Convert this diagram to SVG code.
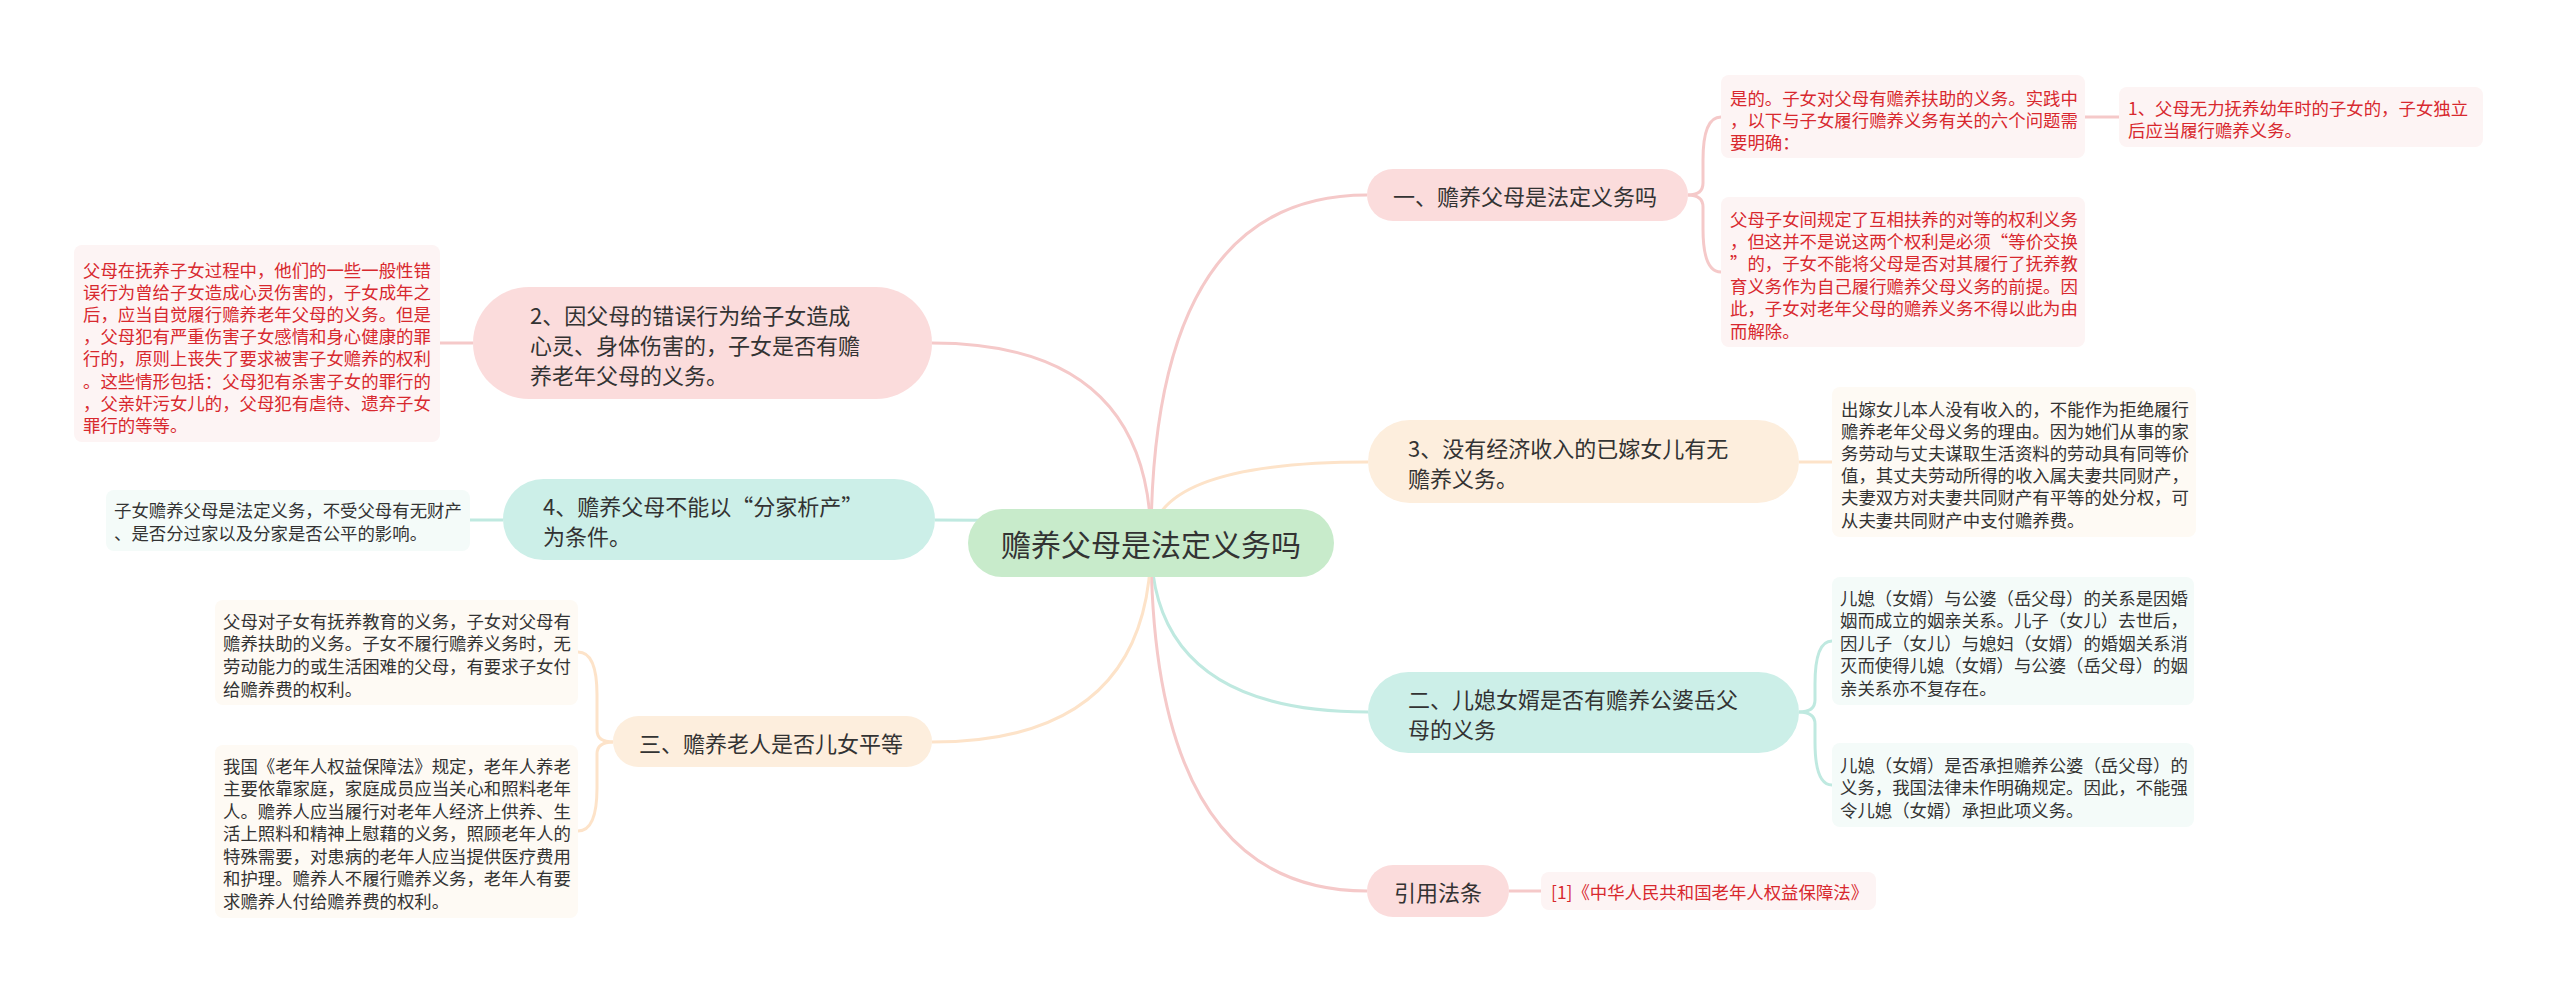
<svg xmlns="http://www.w3.org/2000/svg" width="2560" height="993" viewBox="0 0 2560 993">
<style>
text{font-family:"Noto Sans CJK SC","Noto Sans",sans-serif;dominant-baseline:central;}
.ctr{font-size:30px;fill:#333;text-anchor:middle;}
.l1{font-size:22px;fill:#333;}
.d{font-size:17.4px;fill:#333;}
.r{fill:#d8282e;}
.lp{fill:none;stroke:#f5c9c9;stroke-width:3;}
.lo{fill:none;stroke:#fde3c9;stroke-width:3;}
.lt{fill:none;stroke:#bfe9e0;stroke-width:3;}
.np{fill:#fbdcdc;}
.no{fill:#fdeedd;}
.nt{fill:#ccefe8;}
.bp{fill:#fdf4f4;}
.bo{fill:#fefaf4;}
.bt{fill:#f4fbf9;}
</style>
<rect width="2560" height="993" fill="#ffffff"/>
<g id="connectors">
<path class="lp" d="M1151,543 Q1151,195 1367,195"/>
<path class="lo" d="M1151,543 Q1151,462 1368,462"/>
<path class="lt" d="M1151,543 Q1151,712 1368,712"/>
<path class="lp" d="M1151,543 Q1151,891 1367,891"/>
<path class="lp" d="M1151,543 Q1151,343 932,343"/>
<path class="lt" d="M1151,543 Q1151,520 935,520"/>
<path class="lo" d="M1151,543 Q1151,742 932,742"/>
<path class="lp" d="M1688,195 Q1703,195 1703,183 L1703,160 Q1703,117 1721,117"/>
<path class="lp" d="M1688,195 Q1703,195 1703,207 L1703,229 Q1703,272 1721,272"/>
<path class="lp" d="M2085,117 L2119,117"/>
<path class="lo" d="M1799,462 L1832,462"/>
<path class="lt" d="M1799,712 Q1815,712 1815,700 L1815,684 Q1815,641 1832,641"/>
<path class="lt" d="M1799,712 Q1815,712 1815,724 L1815,742 Q1815,785 1832,785"/>
<path class="lp" d="M1509,891 L1541,891"/>
<path class="lp" d="M440,343 L473,343"/>
<path class="lt" d="M470,520 L503,520"/>
<path class="lo" d="M613,742 Q597,742 597,730 L597,695 Q597,652 578,652"/>
<path class="lo" d="M613,742 Q597,742 597,754 L597,788 Q597,831 578,831"/>
</g>
<g id="center">
<rect x="968" y="509" width="366" height="68" rx="34" fill="#c8ebcb"/>
<text class="ctr" x="1151" y="543">赡养父母是法定义务吗</text>
</g>
<g id="n1">
<rect class="np" x="1367" y="169" width="321" height="52" rx="26"/>
<text class="l1" x="1393" y="195">一、赡养父母是法定义务吗</text>
</g>
<g id="n1a">
<rect class="bp" x="1721" y="75" width="364" height="83" rx="8"/>
<text class="d r" x="1730" y="97">是的。子女对父母有赡养扶助的义务。实践中</text>
<text class="d r" x="1730" y="119">，以下与子女履行赡养义务有关的六个问题需</text>
<text class="d r" x="1730" y="141">要明确：</text>
</g>
<g id="n1a1">
<rect class="bp" x="2119" y="87" width="364" height="60" rx="8"/>
<text class="d r" x="2128" y="107">1、父母无力抚养幼年时的子女的，子女独立</text>
<text class="d r" x="2128" y="129">后应当履行赡养义务。</text>
</g>
<g id="n1b">
<rect class="bp" x="1721" y="197" width="364" height="150" rx="8"/>
<text class="d r" x="1730" y="218">父母子女间规定了互相扶养的对等的权利义务</text>
<text class="d r" x="1730" y="240.4">，但这并不是说这两个权利是必须“等价交换</text>
<text class="d r" x="1730" y="262.8">”的，子女不能将父母是否对其履行了抚养教</text>
<text class="d r" x="1730" y="285.2">育义务作为自己履行赡养父母义务的前提。因</text>
<text class="d r" x="1730" y="307.6">此，子女对老年父母的赡养义务不得以此为由</text>
<text class="d r" x="1730" y="330">而解除。</text>
</g>
<g id="n3">
<rect class="no" x="1368" y="420" width="431" height="83" rx="41.5"/>
<text class="l1" x="1408" y="447">3、没有经济收入的已嫁女儿有无</text>
<text class="l1" x="1408" y="477">赡养义务。</text>
</g>
<g id="n3a">
<rect class="bo" x="1832" y="387" width="364" height="150" rx="8"/>
<text class="d" x="1841" y="408">出嫁女儿本人没有收入的，不能作为拒绝履行</text>
<text class="d" x="1841" y="430.2">赡养老年父母义务的理由。因为她们从事的家</text>
<text class="d" x="1841" y="452.4">务劳动与丈夫谋取生活资料的劳动具有同等价</text>
<text class="d" x="1841" y="474.6">值，其丈夫劳动所得的收入属夫妻共同财产，</text>
<text class="d" x="1841" y="496.8">夫妻双方对夫妻共同财产有平等的处分权，可</text>
<text class="d" x="1841" y="519">从夫妻共同财产中支付赡养费。</text>
</g>
<g id="n2">
<rect class="nt" x="1368" y="672" width="431" height="81" rx="40.5"/>
<text class="l1" x="1408" y="698">二、儿媳女婿是否有赡养公婆岳父</text>
<text class="l1" x="1408" y="728">母的义务</text>
</g>
<g id="n2a">
<rect class="bt" x="1832" y="577" width="362" height="128" rx="8"/>
<text class="d" x="1840" y="597">儿媳（女婿）与公婆（岳父母）的关系是因婚</text>
<text class="d" x="1840" y="619.5">姻而成立的姻亲关系。儿子（女儿）去世后，</text>
<text class="d" x="1840" y="642">因儿子（女儿）与媳妇（女婿）的婚姻关系消</text>
<text class="d" x="1840" y="664.5">灭而使得儿媳（女婿）与公婆（岳父母）的姻</text>
<text class="d" x="1840" y="687">亲关系亦不复存在。</text>
</g>
<g id="n2b">
<rect class="bt" x="1832" y="743" width="362" height="84" rx="8"/>
<text class="d" x="1840" y="764">儿媳（女婿）是否承担赡养公婆（岳父母）的</text>
<text class="d" x="1840" y="786.5">义务，我国法律未作明确规定。因此，不能强</text>
<text class="d" x="1840" y="809">令儿媳（女婿）承担此项义务。</text>
</g>
<g id="nref">
<rect class="np" x="1367" y="865" width="142" height="52" rx="26"/>
<text class="l1" x="1394" y="891">引用法条</text>
</g>
<g id="nrefa">
<rect class="bp" x="1541" y="872" width="335" height="38" rx="8"/>
<text class="d r" x="1551" y="891">[1]《中华人民共和国老年人权益保障法》</text>
</g>
<g id="nL2">
<rect class="np" x="473" y="287" width="459" height="112" rx="56"/>
<text class="l1" x="530" y="314">2、因父母的错误行为给子女造成</text>
<text class="l1" x="530" y="344">心灵、身体伤害的，子女是否有赡</text>
<text class="l1" x="530" y="374">养老年父母的义务。</text>
</g>
<g id="nL2a">
<rect class="bp" x="74" y="245" width="366" height="197" rx="8"/>
<text class="d r" x="83" y="269">父母在抚养子女过程中，他们的一些一般性错</text>
<text class="d r" x="83" y="291.2">误行为曾给子女造成心灵伤害的，子女成年之</text>
<text class="d r" x="83" y="313.4">后，应当自觉履行赡养老年父母的义务。但是</text>
<text class="d r" x="83" y="335.6">，父母犯有严重伤害子女感情和身心健康的罪</text>
<text class="d r" x="83" y="357.8">行的，原则上丧失了要求被害子女赡养的权利</text>
<text class="d r" x="83" y="380">。这些情形包括：父母犯有杀害子女的罪行的</text>
<text class="d r" x="83" y="402.2">，父亲奸污女儿的，父母犯有虐待、遗弃子女</text>
<text class="d r" x="83" y="424.4">罪行的等等。</text>
</g>
<g id="nL4">
<rect class="nt" x="503" y="479" width="432" height="81" rx="40.5"/>
<text class="l1" x="543" y="505">4、赡养父母不能以“分家析产”</text>
<text class="l1" x="543" y="535">为条件。</text>
</g>
<g id="nL4a">
<rect class="bt" x="106" y="490" width="364" height="61" rx="8"/>
<text class="d" x="114" y="509">子女赡养父母是法定义务，不受父母有无财产</text>
<text class="d" x="114" y="532">、是否分过家以及分家是否公平的影响。</text>
</g>
<g id="nL3">
<rect class="no" x="613" y="716" width="319" height="51" rx="25.5"/>
<text class="l1" x="639" y="742">三、赡养老人是否儿女平等</text>
</g>
<g id="nL3a">
<rect class="bo" x="215" y="600" width="363" height="105" rx="8"/>
<text class="d" x="223" y="620">父母对子女有抚养教育的义务，子女对父母有</text>
<text class="d" x="223" y="642.7">赡养扶助的义务。子女不履行赡养义务时，无</text>
<text class="d" x="223" y="665.4">劳动能力的或生活困难的父母，有要求子女付</text>
<text class="d" x="223" y="688">给赡养费的权利。</text>
</g>
<g id="nL3b">
<rect class="bo" x="215" y="745" width="363" height="173" rx="8"/>
<text class="d" x="223" y="765">我国《老年人权益保障法》规定，老年人养老</text>
<text class="d" x="223" y="787.5">主要依靠家庭，家庭成员应当关心和照料老年</text>
<text class="d" x="223" y="810">人。赡养人应当履行对老年人经济上供养、生</text>
<text class="d" x="223" y="832.5">活上照料和精神上慰藉的义务，照顾老年人的</text>
<text class="d" x="223" y="855">特殊需要，对患病的老年人应当提供医疗费用</text>
<text class="d" x="223" y="877.5">和护理。赡养人不履行赡养义务，老年人有要</text>
<text class="d" x="223" y="900">求赡养人付给赡养费的权利。</text>
</g>
</svg>
